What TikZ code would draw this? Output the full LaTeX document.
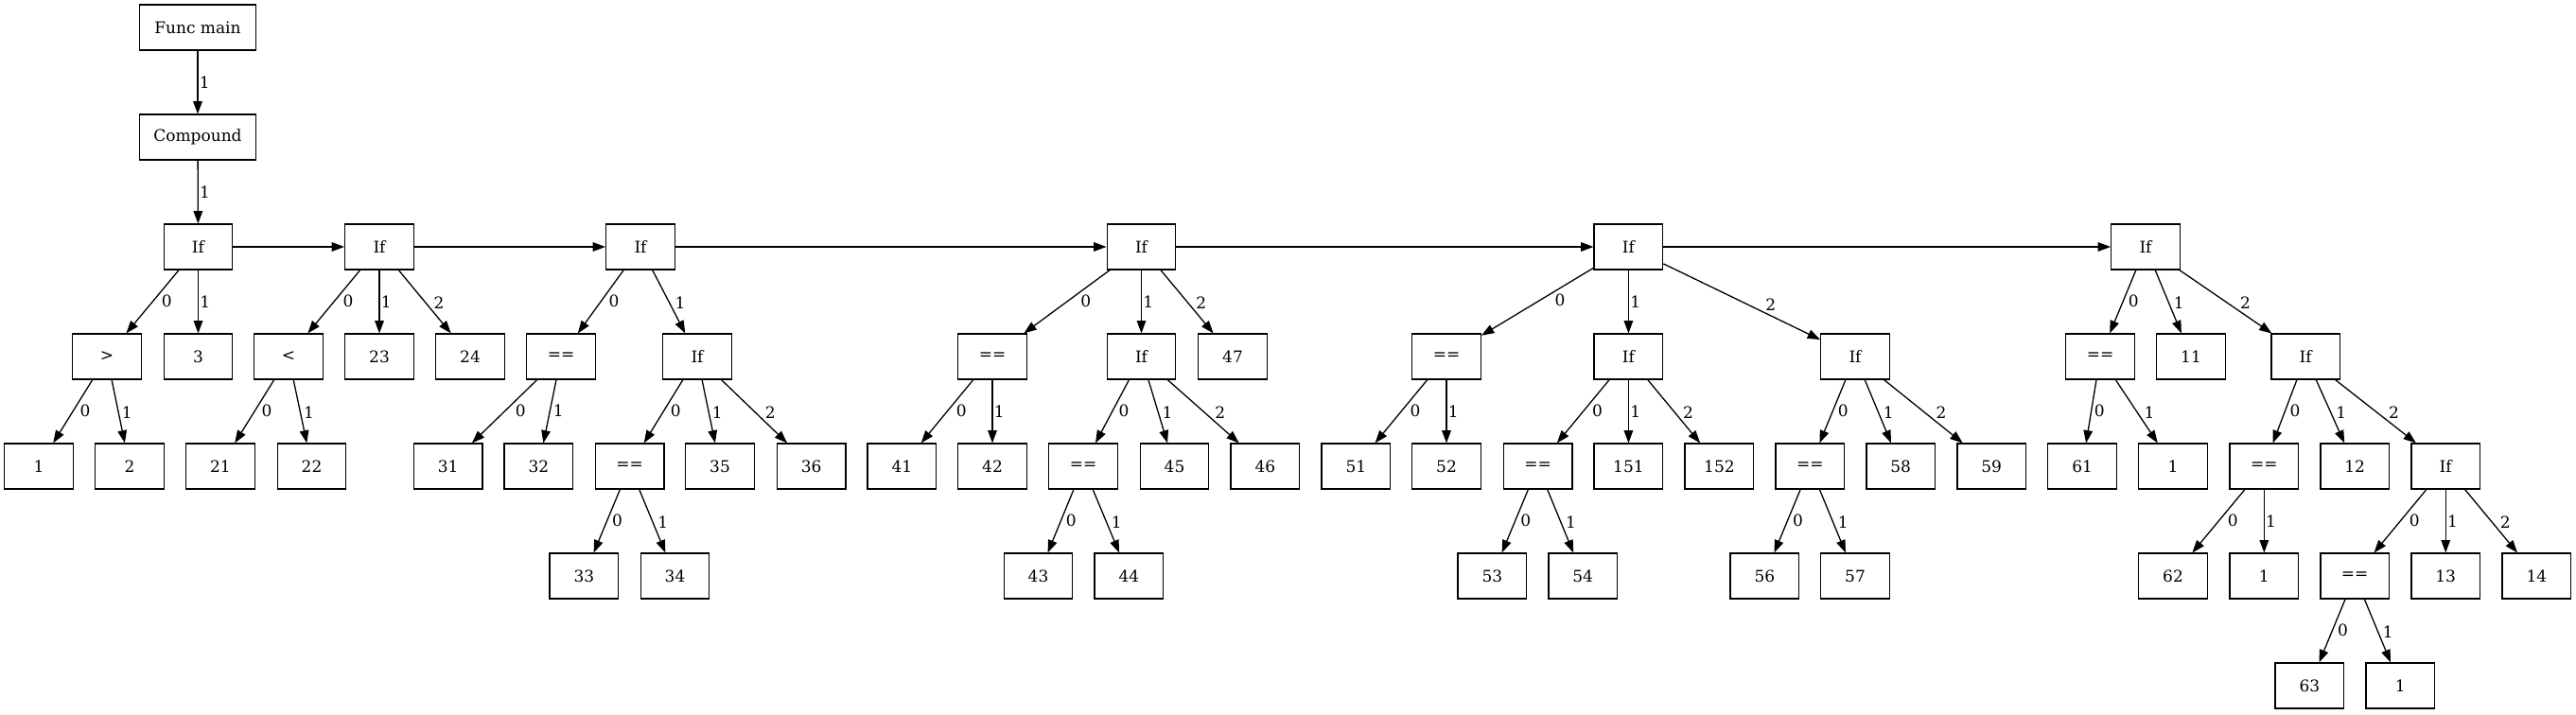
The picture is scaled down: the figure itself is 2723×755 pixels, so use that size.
\documentclass[tikz,border=0pt]{standalone}
\usepackage{fontspec}
\setmainfont{DejaVu Serif}
\usepackage{tikz}
\usetikzlibrary{arrows.meta}

\begin{document}
\begin{tikzpicture}[
        x=0.5pt, y=-0.5pt,
        box/.style={rectangle, draw, line width=0.65pt, minimum width=36.3pt, minimum height=23.9pt, inner sep=0pt, font=\fontsize{8.5}{10}\selectfont},
        widebox/.style={box, minimum width=61.8pt},
        edge/.style={-{Triangle[length=6.7pt, width=4.8pt]}, line width=0.65pt},
        lblv/.style={midway, anchor=west, inner sep=0.6pt, font=\fontsize{8.5}{10}\selectfont},
        lbll/.style={lblv, pos=0.36, anchor=north west},
        lblr/.style={lblv, pos=0.64, anchor=south west}
    ]
    \path[use as bounding box, fill=white] (0,0) rectangle (2723,755);

    % Function and body
    \node[widebox] (fmain) at (209,29) {Func main};
    \node[widebox] (cmpd) at (209,145) {Compound};

    % Statement chain
    \node[box] (if1) at (209.5,261) {If};
    \node[box] (if2) at (401,261) {If};
    \node[box] (if3) at (677,261) {If};
    \node[box] (if4) at (1206.5,261) {If};
    \node[box] (if5) at (1721.4,261) {If};
    \node[box] (if6) at (2268,261) {If};

    % First and second If
    \node[box] (gt) at (113,377) {>};
    \node[box] (n3) at (209.5,377) {3};
    \node[box] (n1a) at (41,493) {1};
    \node[box] (n2) at (137,493) {2};
    \node[box] (lt) at (305,377) {<};
    \node[box] (n23) at (401,377) {23};
    \node[box] (n24) at (497,377) {24};
    \node[box] (n21) at (233,493) {21};
    \node[box] (n22) at (329.5,493) {22};

    % Third If
    \node[box] (eqA) at (593,377) {==};
    \node[box] (ifA) at (737,377) {If};
    \node[box] (n31) at (473.6,493) {31};
    \node[box] (n32) at (569.4,493) {32};
    \node[box] (eqB) at (665.6,493) {==};
    \node[box] (n35) at (761,493) {35};
    \node[box] (n36) at (857.6,493) {36};
    \node[box] (n33) at (617.4,609) {33};
    \node[box] (n34) at (713.5,609) {34};

    % Fourth If
    \node[box] (eqC) at (1049,377) {==};
    \node[box] (ifB) at (1206.5,377) {If};
    \node[box] (n47) at (1303,377) {47};
    \node[box] (n41) at (953.4,493) {41};
    \node[box] (n42) at (1049,493) {42};
    \node[box] (eqD) at (1145,493) {==};
    \node[box] (n45) at (1241.5,493) {45};
    \node[box] (n46) at (1337.4,493) {46};
    \node[box] (n43) at (1097.5,609) {43};
    \node[box] (n44) at (1193.3,609) {44};

    % Fifth If
    \node[box] (eqE) at (1529,377) {==};
    \node[box] (ifC) at (1721.4,377) {If};
    \node[box] (ifD) at (1961,377) {If};
    \node[box] (n51) at (1433.3,493) {51};
    \node[box] (n52) at (1529,493) {52};
    \node[box] (eqF) at (1625.6,493) {==};
    \node[box] (n151) at (1721.4,493) {151};
    \node[box] (n152) at (1817.4,493) {152};
    \node[box] (eqG) at (1913.3,493) {==};
    \node[box] (n58) at (2009.2,493) {58};
    \node[box] (n59) at (2105.2,493) {59};
    \node[box] (n53) at (1577.4,609) {53};
    \node[box] (n54) at (1673.2,609) {54};
    \node[box] (n56) at (1865.3,609) {56};
    \node[box] (n57) at (1961,609) {57};

    % Sixth If
    \node[box] (eqH) at (2220,377) {==};
    \node[box] (n11) at (2316,377) {11};
    \node[box] (ifE) at (2437.2,377) {If};
    \node[box] (n61) at (2201.1,493) {61};
    \node[box] (n1b) at (2297,493) {1};
    \node[box] (eqI) at (2393.3,493) {==};
    \node[box] (n12) at (2489.2,493) {12};
    \node[box] (ifF) at (2585.2,493) {If};
    \node[box] (n62) at (2297,609) {62};
    \node[box] (n1c) at (2393.3,609) {1};
    \node[box] (eqJ) at (2489.2,609) {==};
    \node[box] (n13) at (2585.2,609) {13};
    \node[box] (n14) at (2681.4,609) {14};
    \node[box] (n63) at (2441.3,725) {63};
    \node[box] (n1d) at (2537.2,725) {1};

    % Edges
    \draw[edge] (fmain) -- node[lblv] {1} (cmpd);
    \draw[edge] (cmpd) -- node[lblv] {1} (if1);
    \draw[edge] (if1) -- (if2);
    \draw[edge] (if2) -- (if3);
    \draw[edge] (if3) -- (if4);
    \draw[edge] (if4) -- (if5);
    \draw[edge] (if5) -- (if6);

    \draw[edge] (if1) -- node[lbll] {0} (gt);
    \draw[edge] (if1) -- node[lblv] {1} (n3);
    \draw[edge] (gt) -- node[lbll] {0} (n1a);
    \draw[edge] (gt) -- node[lblr] {1} (n2);
    \draw[edge] (if2) -- node[lbll] {0} (lt);
    \draw[edge] (if2) -- node[lblv] {1} (n23);
    \draw[edge] (if2) -- node[lblr] {2} (n24);
    \draw[edge] (lt) -- node[lbll] {0} (n21);
    \draw[edge] (lt) -- node[lblr] {1} (n22);

    \draw[edge] (if3) -- node[lbll] {0} (eqA);
    \draw[edge] (if3) -- node[lblr] {1} (ifA);
    \draw[edge] (eqA) -- node[lbll] {0} (n31);
    \draw[edge] (eqA) -- node[lbll] {1} (n32);
    \draw[edge] (ifA) -- node[lbll] {0} (eqB);
    \draw[edge] (ifA) -- node[lblr] {1} (n35);
    \draw[edge] (ifA) -- node[lblr] {2} (n36);
    \draw[edge] (eqB) -- node[lbll] {0} (n33);
    \draw[edge] (eqB) -- node[lblr] {1} (n34);

    \draw[edge] (if4) -- node[lbll] {0} (eqC);
    \draw[edge] (if4) -- node[lblv] {1} (ifB);
    \draw[edge] (if4) -- node[lblr] {2} (n47);
    \draw[edge] (eqC) -- node[lbll] {0} (n41);
    \draw[edge] (eqC) -- node[lblv] {1} (n42);
    \draw[edge] (ifB) -- node[lbll] {0} (eqD);
    \draw[edge] (ifB) -- node[lblr] {1} (n45);
    \draw[edge] (ifB) -- node[lblr] {2} (n46);
    \draw[edge] (eqD) -- node[lbll] {0} (n43);
    \draw[edge] (eqD) -- node[lblr] {1} (n44);

    \draw[edge] (if5) -- node[lbll] {0} (eqE);
    \draw[edge] (if5) -- node[lblv] {1} (ifC);
    \draw[edge] (if5) -- node[lblr] {2} (ifD);
    \draw[edge] (eqE) -- node[lbll] {0} (n51);
    \draw[edge] (eqE) -- node[lblv] {1} (n52);
    \draw[edge] (ifC) -- node[lbll] {0} (eqF);
    \draw[edge] (ifC) -- node[lblv] {1} (n151);
    \draw[edge] (ifC) -- node[lblr] {2} (n152);
    \draw[edge] (eqF) -- node[lbll] {0} (n53);
    \draw[edge] (eqF) -- node[lblr] {1} (n54);
    \draw[edge] (ifD) -- node[lbll] {0} (eqG);
    \draw[edge] (ifD) -- node[lblr] {1} (n58);
    \draw[edge] (ifD) -- node[lblr] {2} (n59);
    \draw[edge] (eqG) -- node[lbll] {0} (n56);
    \draw[edge] (eqG) -- node[lblr] {1} (n57);

    \draw[edge] (if6) -- node[lbll] {0} (eqH);
    \draw[edge] (if6) -- node[lblr] {1} (n11);
    \draw[edge] (if6) -- node[lblr] {2} (ifE);
    \draw[edge] (eqH) -- node[lbll] {0} (n61);
    \draw[edge] (eqH) -- node[lblr] {1} (n1b);
    \draw[edge] (ifE) -- node[lbll] {0} (eqI);
    \draw[edge] (ifE) -- node[lblr] {1} (n12);
    \draw[edge] (ifE) -- node[lblr] {2} (ifF);
    \draw[edge] (eqI) -- node[lbll] {0} (n62);
    \draw[edge] (eqI) -- node[lblv] {1} (n1c);
    \draw[edge] (ifF) -- node[lbll] {0} (eqJ);
    \draw[edge] (ifF) -- node[lblv] {1} (n13);
    \draw[edge] (ifF) -- node[lblr] {2} (n14);
    \draw[edge] (eqJ) -- node[lbll] {0} (n63);
    \draw[edge] (eqJ) -- node[lblr] {1} (n1d);

\end{tikzpicture}
\end{document}
